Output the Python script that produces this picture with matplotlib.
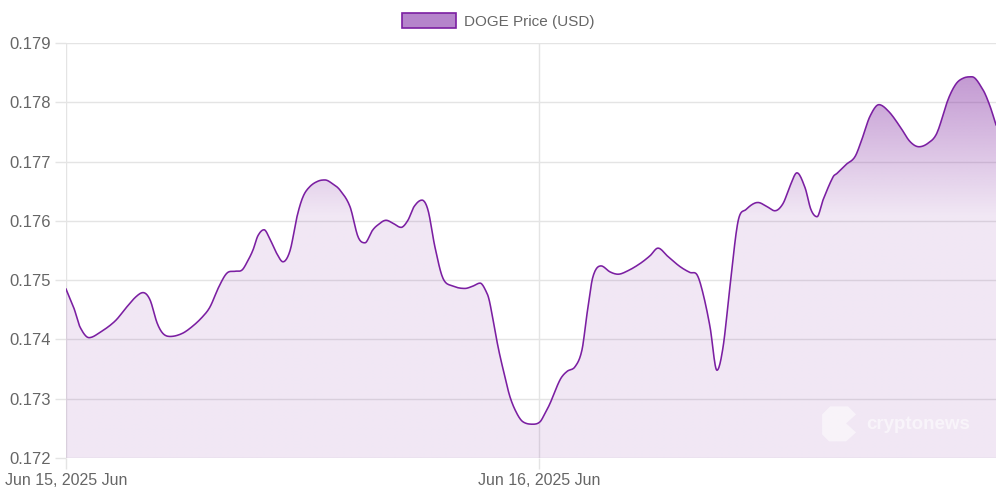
import matplotlib
matplotlib.use("Agg")
import matplotlib.pyplot as plt
import matplotlib.dates as mdates
from matplotlib.patches import Patch, Polygon
import numpy as np
import pandas as pd

plt.rcParams['font.family'] = ['Liberation Sans', 'DejaVu Sans']

# hours since 2025-06-15 00:00 and DOGE price (USD)
hours = [0.00, 0.41, 0.71, 1.17, 1.73, 2.49, 3.09, 3.55, 3.91, 4.26, 4.62, 4.92,
         5.28, 5.89, 6.45, 6.95, 7.31, 7.76, 8.17, 8.58, 8.93, 9.23, 9.49, 9.74,
         10.05, 10.35, 10.71, 11.01, 11.37, 11.72, 12.03, 12.38, 12.79, 13.14,
         13.55, 13.90, 14.41, 14.82, 15.17, 15.53, 15.78, 16.24, 16.59, 17.00,
         17.35, 17.66, 18.06, 18.37, 18.72, 19.13, 19.64, 20.24, 20.65, 21.01,
         21.36, 21.51, 21.92, 22.22, 22.53, 22.88, 23.19, 23.70, 24.05, 24.30,
         24.56, 25.07, 25.42, 25.83, 26.18, 26.44, 26.74, 27.15, 27.60, 28.01,
         28.52, 29.13, 29.63, 30.04, 30.54, 31.15, 31.66, 32.02, 32.32, 32.68,
         33.03, 33.34, 33.69, 34.10, 34.50, 35.11, 35.57, 35.97, 36.38, 36.74,
         37.09, 37.50, 37.80, 38.11, 38.41, 38.92, 39.12, 39.58, 40.03, 40.39,
         40.79, 41.25, 41.76, 42.32, 42.82, 43.28, 43.74, 44.19, 44.75, 45.16,
         45.55, 45.97, 46.53, 46.88, 47.19]
price = [0.17485, 0.17452, 0.17421, 0.17403, 0.17412, 0.17431, 0.17455, 0.17472,
         0.17479, 0.17467, 0.17428, 0.17410, 0.17405, 0.17410, 0.17423, 0.17439,
         0.17455, 0.17489, 0.17512, 0.17515, 0.17517, 0.17533, 0.17551, 0.17575,
         0.17585, 0.17569, 0.17544, 0.17531, 0.17550, 0.17607, 0.17641, 0.17658,
         0.17667, 0.17669, 0.17662, 0.17652, 0.17624, 0.17573, 0.17563, 0.17583,
         0.17592, 0.17601, 0.17596, 0.17589, 0.17601, 0.17624, 0.17635, 0.17618,
         0.17556, 0.17503, 0.17490, 0.17486, 0.17490, 0.17495, 0.17478, 0.17461,
         0.17388, 0.17344, 0.17303, 0.17275, 0.17261, 0.17257, 0.17261, 0.17275,
         0.17292, 0.17332, 0.17346, 0.17354, 0.17382, 0.17444, 0.17506, 0.17524,
         0.17514, 0.17510, 0.17516, 0.17528, 0.17541, 0.17554, 0.17540, 0.17523,
         0.17513, 0.17509, 0.17478, 0.17421, 0.17348, 0.17387, 0.17489, 0.17599,
         0.17619, 0.17631, 0.17624, 0.17617, 0.17629, 0.17659, 0.17681, 0.17656,
         0.17619, 0.17607, 0.17635, 0.17674, 0.17680, 0.17695, 0.17708, 0.17738,
         0.17776, 0.17796, 0.17784, 0.17759, 0.17734, 0.17725, 0.17731, 0.17748,
         0.17804, 0.17831, 0.17841, 0.17843, 0.17821, 0.17794, 0.17762]
y_ticks = [0.172, 0.173, 0.174, 0.175, 0.176, 0.177, 0.178, 0.179]
start = pd.Timestamp("2025-06-15 00:00")

line_color = "#7b1fa2"
grid_color = "#e4e4e4"
text_color = "#666666"


def smooth(x, y, n=12):
    # cubic hermite through the read points (Catmull-Rom style tangents)
    x = np.asarray(x, float)
    y = np.asarray(y, float)
    h = np.diff(x)
    d = np.diff(y) / h
    m = np.zeros_like(y)
    m[1:-1] = (y[2:] - y[:-2]) / (x[2:] - x[:-2])
    # keep local extrema flat
    ext = d[:-1] * d[1:] <= 0
    m[1:-1][ext] = 0
    m[0], m[-1] = d[0], d[-1]
    xs, ys = [], []
    for k in range(len(h)):
        t = np.linspace(0, 1, n, endpoint=False)
        h00 = 2 * t**3 - 3 * t**2 + 1
        h10 = t**3 - 2 * t**2 + t
        h01 = -2 * t**3 + 3 * t**2
        h11 = t**3 - t**2
        xs.append(x[k] + t * h[k])
        ys.append(h00 * y[k] + h10 * h[k] * m[k] + h01 * y[k + 1] + h11 * h[k] * m[k + 1])
    xs.append([x[-1]])
    ys.append([y[-1]])
    return np.concatenate(xs), np.concatenate(ys)


hx, py = smooth(hours, price)
tx = mdates.date2num(start) + hx / 24.0

fig = plt.figure(figsize=(9.97, 4.97), dpi=100)
ax = fig.add_axes([66 / 997, 39 / 497, 930 / 997, 415 / 497])

x0, x1 = tx[0], tx[-1]
y0, y1 = 0.172, 0.179
ax.set_xlim(x0, x1)
ax.set_ylim(y0, y1)

# gradient fill, clipped to the area under the curve
vals = np.linspace(y1, y0, 400)
alpha = np.clip(0.45 - 154 * (0.17829 - vals), 0.11, 0.56)
img = np.zeros((400, 2, 4))
img[..., 0] = 128 / 255
img[..., 1] = 40 / 255
img[..., 2] = 160 / 255
img[..., 3] = alpha[:, None]
im = ax.imshow(img, extent=[x0, x1, y0, y1], aspect="auto", origin="upper",
               interpolation="bilinear", zorder=2)
verts = np.column_stack([np.r_[tx, x1, x0], np.r_[py, y0, y0]])
clip = Polygon(verts, closed=True, transform=ax.transData, facecolor="none", edgecolor="none")
ax.add_patch(clip)
im.set_clip_path(clip)

ax.plot(tx, py, color=line_color, lw=1.15, zorder=3, solid_joinstyle="round")

# axes styling
for s in ax.spines.values():
    s.set_visible(False)
ax.set_yticks(y_ticks)
ax.set_yticklabels([f"{v:.3f}" for v in y_ticks])
ax.xaxis.set_major_locator(mdates.DayLocator())
ax.xaxis.set_major_formatter(mdates.DateFormatter("%b %d, %Y %b"))
ax.grid(True, color=grid_color, lw=1, zorder=0)
ax.set_axisbelow(True)
ax.tick_params(axis="both", length=8, width=1, color=grid_color, labelcolor=text_color,
               labelsize=12, pad=3)
ax.tick_params(axis="x", labelsize=11.5)

# watermark
wx, wy = 0.813, 0.04
logo = np.array([[0, 0.35], [0.35, 0], [1.2, 0], [1.7, 0.45], [1.2, 0.9], [1.7, 1.35],
                 [1.3, 1.75], [0.4, 1.75], [0, 1.35]])
logo_px = logo * 20
ax.add_patch(Polygon(np.column_stack([wx + logo_px[:, 0] / 930, wy + logo_px[:, 1] / 415]),
                     closed=True, transform=ax.transAxes, facecolor="white",
                     edgecolor="none", alpha=0.5, zorder=4))
ax.text(0.861, 0.08, "cryptonews", transform=ax.transAxes, fontsize=13.5,
        fontweight="bold", color="white", alpha=0.55, va="center", ha="left", zorder=4)

handle = Patch(facecolor="#b584cb", edgecolor=line_color, lw=1.2)
fig.legend([handle], ["DOGE Price (USD)"], loc="center", bbox_to_anchor=(0.5, 1 - 21 / 497),
           frameon=False, fontsize=11, labelcolor=text_color, handlelength=3.5,
           handleheight=1.05, handletextpad=0.55)

fig.savefig("out.png", dpi=100)
